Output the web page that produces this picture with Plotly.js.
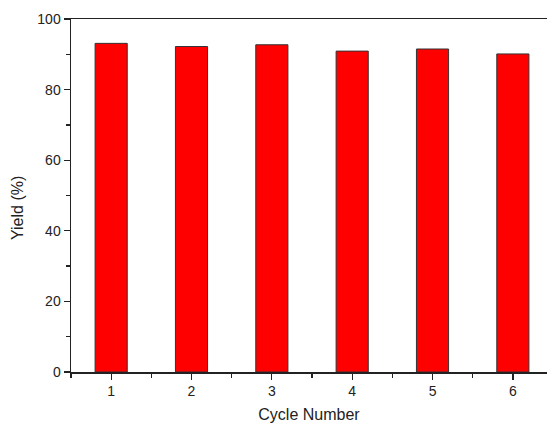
<!DOCTYPE html>
<html>
<head>
<meta charset="utf-8">
<script src="https://cdn.plot.ly/plotly-3.0.1.min.js"></script>
<style>
html,body{margin:0;padding:0;overflow:hidden;background:#fff;}
#chart{width:547px;height:423px;}
</style>
</head>
<body>
<div id="chart"></div>
<script>
const cycles = [1, 2, 3, 4, 5, 6];
const yields = [93.1, 92.2, 92.7, 90.9, 91.5, 90.1];
const xTickLabels = ['1', '2', '3', '4', '5', '6'];

const trace = {
  type: 'bar',
  x: cycles,
  y: yields,
  width: 0.4,
  marker: {color: '#ff0000', line: {color: '#333333', width: 1}},
  hoverinfo: 'none'
};

const fam = 'Liberation Sans, Arial, sans-serif';
const axisFont = {family: fam, size: 14, color: '#222'};

const layout = {
  width: 547,
  height: 423,
  margin: {l: 71, r: 0, t: 19, b: 51},
  paper_bgcolor: '#fff',
  plot_bgcolor: '#fff',
  showlegend: false,
  xaxis: {
    range: [0.5, 6.425],
    tickmode: 'array',
    tickvals: cycles,
    ticktext: xTickLabels,
    ticks: 'outside',
    ticklen: 6,
    tickwidth: 1.3,
    tickcolor: '#222',
    showline: true,
    linecolor: '#222',
    linewidth: 1.5,
    mirror: true,
    showgrid: false,
    zeroline: false,
    tickfont: axisFont,
    minor: {tickmode: 'linear', tick0: 0.5, dtick: 1, ticks: 'outside', ticklen: 4, tickwidth: 1.3, tickcolor: '#222', showgrid: false},
    title: {text: 'Cycle Number', font: {family: fam, size: 16, color: '#222'}, standoff: 12}
  },
  yaxis: {
    range: [0, 100],
    tickmode: 'linear',
    tick0: 0,
    dtick: 20,
    ticks: 'outside',
    ticklen: 6,
    tickwidth: 1.3,
    tickcolor: '#222',
    showline: true,
    linecolor: '#222',
    linewidth: 1.5,
    mirror: false,
    showgrid: false,
    zeroline: false,
    tickfont: axisFont,
    minor: {tickmode: 'linear', tick0: 10, dtick: 20, ticks: 'outside', ticklen: 4, tickwidth: 1.3, tickcolor: '#222', showgrid: false}
  },
  annotations: [{
    text: 'Yield (%)',
    xref: 'paper', yref: 'paper',
    x: -0.111, y: 0.465,
    xanchor: 'center', yanchor: 'middle',
    textangle: -90,
    showarrow: false,
    font: {family: fam, size: 16, color: '#222'}
  }]
};

Plotly.newPlot('chart', [trace], layout, {displayModeBar: false, staticPlot: true});
</script>
</body>
</html>
